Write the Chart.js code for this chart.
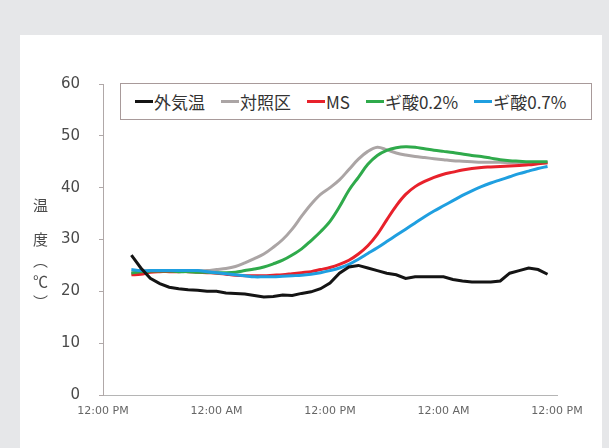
<!DOCTYPE html>
<html lang="ja">
<head>
<meta charset="UTF-8">
<script src="https://cdn.jsdelivr.net/npm/chart.js"></script>
<style>
  body { margin: 0; width: 609px; height: 448px; background: #e6e7e9; position: relative; overflow: hidden; }
  .panel { position: absolute; left: 20px; top: 35px; width: 582px; height: 413px; background: #fff; }
  #chart-box { position: absolute; left: 0; top: 0; width: 582px; height: 413px; }
  .ytitle {
    position: absolute; left: 10px; top: 163px;
    writing-mode: vertical-rl; font-family: "Noto Sans CJK JP", sans-serif;
    font-size: 15px; color: #4a4a4a; letter-spacing: 6px;
  }
  .legend {
    position: absolute; left: 100px; top: 48px; width: 472px; height: 37px;
    border: 1px solid #a89a9a; box-sizing: border-box; background: #fff;
    display: flex; align-items: center; padding-left: 14px;
    font-family: "Noto Sans CJK JP", sans-serif; font-size: 17px; color: #333;
  }
  .legend .item { display: flex; align-items: center; margin-right: 16px; }
  .legend .mark { width: 18px; height: 3px; margin-right: 1px; }
</style>
</head>
<body>
<div class="panel">
  <div id="chart-box"><canvas id="myChart" width="582" height="413"></canvas></div>
  <div class="ytitle"><span style="margin-inline-end:13px">温</span>度（℃）</div>
  <div class="legend" id="legend"></div>
</div>

<script>
  // hours from the first 12:00 PM
  var hours = [3,4,5,6,7,8,9,10,11,12,13,14,15,16,17,18,19,20,21,22,23,24,25,
               26,27,28,29,30,31,32,33,34,35,36,37,38,39,40,41,42,43,44,45,46,47];

  var outside = [27,24.5,22.5,21.5,20.8,20.5,20.3,20.2,20,20,19.7,19.6,19.5,19.2,18.9,19,19.3,19.2,19.6,19.9,20.5,21.6,23.5,
                 24.7,25,24.5,24,23.5,23.2,22.5,22.8,22.8,22.8,22.8,22.3,22,21.8,21.8,21.8,22,23.5,24,24.5,24.2,23.3];
  var control = [23.6,23.8,24,24,24,24,24,24,24,24.2,24.4,24.8,25.5,26.3,27.2,28.5,30,32,34.5,36.8,38.7,40,41.5,
                 43.5,45.5,47,47.8,47.3,46.7,46.3,46,45.8,45.6,45.4,45.2,45.1,45,44.9,44.9,44.9,44.8,44.8,44.8,44.8,44.8];
  var ms = [23.2,23.3,23.7,23.8,23.8,23.8,23.8,23.7,23.6,23.5,23.3,23.1,23,23,23,23.1,23.2,23.4,23.6,23.8,24.2,24.6,25.2,
            26,27.2,28.8,31,33.8,36.5,38.7,40.2,41.2,42,42.6,43,43.4,43.7,43.9,44,44.1,44.2,44.3,44.4,44.6,44.8];
  var fa02 = [23.5,23.8,23.9,23.9,23.9,23.8,23.8,23.7,23.7,23.6,23.6,23.7,24,24.3,24.7,25.3,26,27,28.2,29.8,31.5,33.5,36.3,
              39.5,42,44.5,46.2,47.2,47.7,47.9,47.8,47.5,47.2,47,46.8,46.5,46.2,46,45.7,45.4,45.2,45.1,45,45,45];
  var fa07 = [24.2,24,24,24,24,24,24,24,23.8,23.6,23.4,23.2,23,22.8,22.8,22.8,22.9,23,23.1,23.3,23.6,24,24.5,
              25.2,26.2,27.3,28.4,29.6,30.8,32,33.2,34.4,35.5,36.5,37.5,38.5,39.4,40.2,40.9,41.5,42.1,42.7,43.2,43.7,44.1];

  var seriesNames = ['外気温', '対照区', 'MS', 'ギ酸0.2%', 'ギ酸0.7%'];
  var seriesColors = ['#141414', '#aba5a5', '#e8212b', '#2faa4b', '#1f9fe0'];
  var seriesValues = [outside, control, ms, fa02, fa07];
  var xTickLabels = ['12:00 PM', '12:00 AM'];

  function pts(vals) {
    return hours.map(function (h, i) { return { x: h, y: vals[i] }; });
  }

  var datasets = seriesNames.map(function (name, i) {
    return {
      label: name,
      data: pts(seriesValues[i]),
      borderColor: seriesColors[i],
      backgroundColor: seriesColors[i],
      borderWidth: 3,
      pointRadius: 0,
      tension: i === 0 ? 0 : 0.35,
      order: i === 0 ? 0 : 5 - i
    };
  });

  var legend = document.getElementById('legend');
  seriesNames.forEach(function (name, i) {
    var item = document.createElement('div');
    item.className = 'item';
    item.innerHTML = '<span class="mark" style="background:' + seriesColors[i] + '"></span><span>' + name + '</span>';
    legend.appendChild(item);
  });

  var ctx = document.getElementById('myChart').getContext('2d');
  var myChart = new Chart(ctx, {
    type: 'line',
    data: { datasets: datasets },
    options: {
      responsive: false,
      animation: false,
      layout: { padding: { top: 49, right: 45, left: 0, bottom: 0 } },
      plugins: { legend: { display: false }, tooltip: { enabled: false } },
      scales: {
        x: {
          type: 'linear', min: 0, max: 48,
          afterFit: function (s) { s.height = 53; },
          border: { color: '#b5b5b5', width: 1 },
          grid: { drawOnChartArea: false, drawTicks: false },
          ticks: {
            stepSize: 12, padding: 10, maxRotation: 0,
            color: '#666', font: { family: 'DejaVu Sans', size: 11 },
            callback: function (v) { return xTickLabels[(v / 12) % 2]; }
          }
        },
        y: {
          min: 0, max: 60,
          afterFit: function (s) { s.width = 83; },
          border: { color: '#b0a8a8', width: 1 },
          grid: { drawOnChartArea: false, tickLength: 4, color: '#b0a8a8' },
          ticks: {
            stepSize: 10, padding: 19,
            color: '#4a4a4a', font: { family: 'DejaVu Sans', size: 15 }
          }
        }
      }
    }
  });
</script>
</body>
</html>
